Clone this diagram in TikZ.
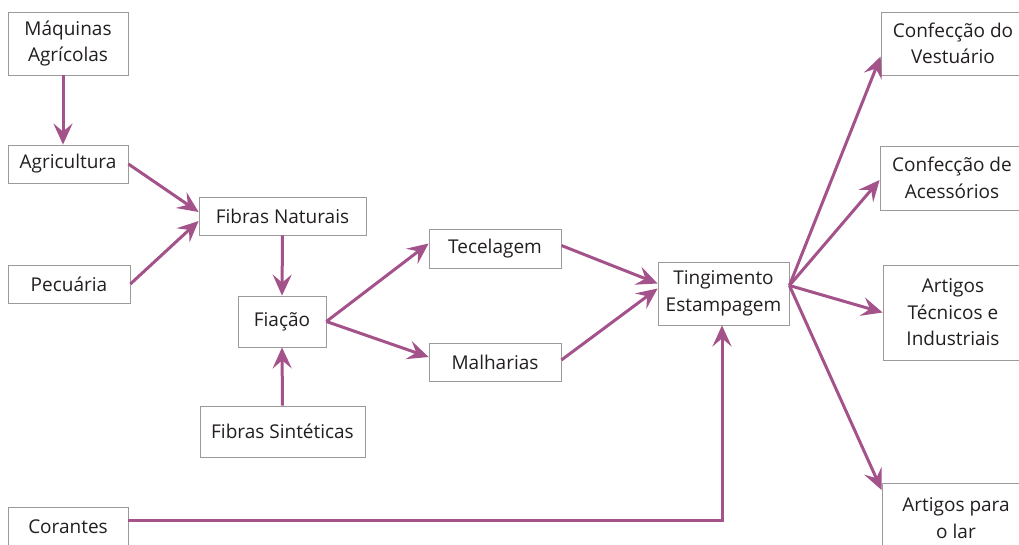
\documentclass[tikz,border=0pt]{standalone}
\usepackage{fontspec}
\setmainfont{Open Sans}
\usetikzlibrary{arrows.meta,positioning}
\definecolor{rosa}{HTML}{A3528A}
\definecolor{borda}{HTML}{9A9A9A}
\definecolor{texto}{HTML}{231F20}

\begin{document}
\begin{tikzpicture}[x=1pt,y=-1pt,
every node/.style={draw=borda,line width=0.8pt,fill=white,align=center,inner sep=0pt,text=texto,font=\fontsize{19}{26.5}\selectfont},
liga/.style={draw=rosa,line width=3pt,-{Stealth[length=21pt,width=19pt,inset=8pt]}}]
\useasboundingbox (0,0) rectangle (1019,545);
\clip (0,0) rectangle (1019,545);
\node[minimum width=120pt,minimum height=63pt] (maq) at (68,43.5) {Máquinas\\Agrícolas};
\node[minimum width=120pt,minimum height=38pt] (agri) at (68,164) {Agricultura};
\node[minimum width=122pt,minimum height=38pt] (pec) at (69,284) {Pecuária};
\node[minimum width=167pt,minimum height=38pt] (fibnat) at (282.5,216) {Fibras Naturais};
\node[minimum width=88pt,minimum height=51pt] (fia) at (282,321.5) {Fiação};
\node[minimum width=165pt,minimum height=51pt] (fibsint) at (282.5,431.5) {Fibras Sintéticas};
\node[minimum width=132pt,minimum height=39pt] (tec) at (495,248.5) {Tecelagem};
\node[minimum width=132pt,minimum height=38pt] (malh) at (495,362) {Malharias};
\node[minimum width=131pt,minimum height=63pt] (ting) at (723.5,293.5) {Tingimento\\Estampagem};
\node[minimum width=120pt,minimum height=40pt] (cor) at (68,527) {Corantes};
\node[minimum width=144pt,minimum height=63pt] (vest) at (953,43.5) {Confecção do\\Vestuário};
\node[minimum width=144pt,minimum height=64pt] (aces) at (952,178) {Confecção de\\Acessórios};
\node[minimum width=140pt,minimum height=95pt] (tecn) at (953,312.5) {Artigos\\Técnicos e\\Industriais};
\node[minimum width=148pt,minimum height=70pt] (lar) at (956,518) {Artigos para\\o lar};
% setas
\draw[liga] ([xshift=-5pt]maq.south) -- ([xshift=-5pt]agri.north);
\draw[liga] (agri.east) -- ([yshift=4pt]fibnat.west);
\draw[liga] (pec.east) -- ([yshift=-5pt]fibnat.west);
\draw[liga] (fibnat.south) -- (fia.north);
\draw[liga] (fibsint.north) -- (fia.south);
\draw[liga] (fia.east) -- ([yshift=5pt]tec.west);
\draw[liga] (fia.east) -- ([yshift=5pt]malh.west);
\draw[liga] ([yshift=3pt]tec.east) -- ([yshift=10pt]ting.west);
\draw[liga] ([yshift=2pt]malh.east) -- ([yshift=5pt]ting.west);
\draw[liga] ([yshift=7pt]cor.east) -| ([xshift=-1.5pt]ting.south);
\draw[liga] ([yshift=8pt]ting.east) -- ([yshift=-13pt]vest.west);
\draw[liga] ([yshift=8pt]ting.east) -- ([yshift=-2pt]aces.west);
\draw[liga] ([yshift=8pt]ting.east) -- (tecn.west);
\draw[liga] ([yshift=8pt]ting.east) -- ([yshift=28pt]lar.west);
\end{tikzpicture}
\end{document}
